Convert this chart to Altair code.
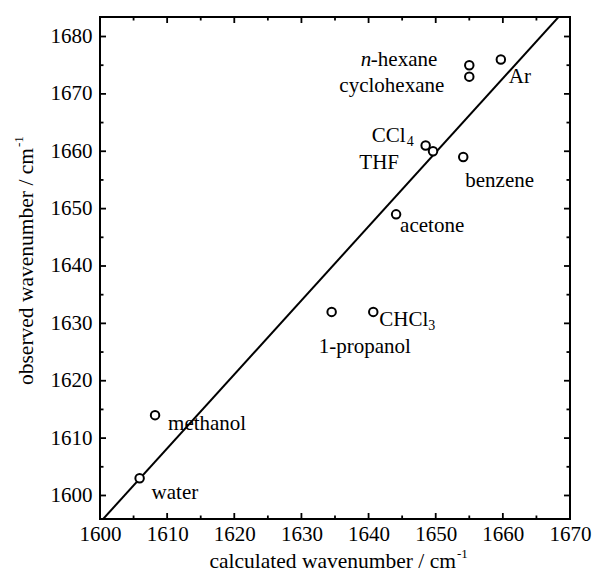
import altair as alt
import pandas as pd

# ---- data ----
solvents = ["water", "methanol", "1-propanol", "CHCl3", "acetone", "CCl4",
            "THF", "benzene", "n-hexane", "cyclohexane", "Ar"]
calculated = [1605.9, 1608.2, 1634.5, 1640.7, 1644.1, 1648.5,
              1649.6, 1654.1, 1655.0, 1655.0, 1659.7]
observed = [1603, 1614, 1632, 1632, 1649, 1661,
            1660, 1659, 1675, 1673, 1676]

fit_x = [1600, 1670]
fit_y = [1595.3, 1685.6]

x_major = [1600, 1610, 1620, 1630, 1640, 1650, 1660, 1670]
x_minor = [1605, 1615, 1625, 1635, 1645, 1655, 1665]
y_major = [1600, 1610, 1620, 1630, 1640, 1650, 1660, 1670, 1680]
y_minor = [1605, 1615, 1625, 1635, 1645, 1655, 1665, 1675]

X_DOMAIN = [1600, 1670]
Y_DOMAIN = [1595.9, 1683.4]
W, H = 470, 502
FONT = "Liberation Serif, Times New Roman, serif"
FS = 21

pts = pd.DataFrame({"solvent": solvents, "calc": calculated, "obs": observed})
fit = pd.DataFrame({"calc": fit_x, "obs": fit_y})
one = pd.DataFrame({"k": [0]})

xs = alt.Scale(domain=X_DOMAIN, nice=False, zero=False)
ys = alt.Scale(domain=Y_DOMAIN, nice=False, zero=False)

x_axis = alt.Axis(values=x_major, format="d", title=None)
y_axis = alt.Axis(values=y_major, format="d", title=None)

base_line = alt.Chart(fit).mark_line(color="black", strokeWidth=2, clip=True).encode(
    x=alt.X("calc:Q", scale=xs, axis=x_axis),
    y=alt.Y("obs:Q", scale=ys, axis=y_axis),
)

points = alt.Chart(pts).mark_point(shape="circle", filled=True, fill="white",
                                   stroke="black", strokeWidth=2, size=72, opacity=1).encode(
    x=alt.X("calc:Q", scale=xs, axis=x_axis),
    y=alt.Y("obs:Q", scale=ys, axis=y_axis),
)

# inward ticks on all four sides
def tick_layers(vals, length):
    dx = pd.DataFrame({"v": vals})
    return [
        alt.Chart(dx).mark_rule(color="black", strokeWidth=1.8).encode(
            x=alt.X("v:Q", scale=xs, axis=x_axis), y=alt.value(H), y2=alt.value(H - length)),
        alt.Chart(dx).mark_rule(color="black", strokeWidth=1.8).encode(
            x=alt.X("v:Q", scale=xs, axis=x_axis), y=alt.value(0), y2=alt.value(length)),
    ]

def ytick_layers(vals, length):
    dy = pd.DataFrame({"v": vals})
    return [
        alt.Chart(dy).mark_rule(color="black", strokeWidth=1.8).encode(
            y=alt.Y("v:Q", scale=ys, axis=y_axis), x=alt.value(0), x2=alt.value(length)),
        alt.Chart(dy).mark_rule(color="black", strokeWidth=1.8).encode(
            y=alt.Y("v:Q", scale=ys, axis=y_axis), x=alt.value(W), x2=alt.value(W - length)),
    ]

ticks = (tick_layers(x_major, 6) + tick_layers(x_minor, 3.5)
         + ytick_layers(y_major, 6) + ytick_layers(y_minor, 3.5))

# label styling: (solvent, text, dx, dy, align, size, style)
label_styles = [
    ("water", "water", 12, 15, "left", FS, "normal"),
    ("methanol", "methanol", 13, 9, "left", FS, "normal"),
    ("1-propanol", "1-propanol", -13, 35, "left", FS, "normal"),
    ("CHCl3", "CHCl", 6, 8, "left", FS, "normal"),
    ("CHCl3", "3", 55, 14, "left", 14, "normal"),
    ("acetone", "acetone", 4, 12, "left", FS, "normal"),
    ("CCl4", "CCl", -20, -10, "right", FS, "normal"),
    ("CCl4", "4", -12, -4, "right", 14, "normal"),
    ("THF", "THF", -34, 12, "right", FS, "normal"),
    ("benzene", "benzene", 2, 24, "left", FS, "normal"),
    ("n-hexane", "-hexane", -32, -5, "right", FS, "normal"),
    ("n-hexane", "n", -98, -5, "right", FS, "italic"),
    ("cyclohexane", "cyclohexane", -25, 9, "right", FS, "normal"),
    ("Ar", "Ar", 8, 18, "left", FS, "normal"),
]

labels = []
for solv, txt, dx, dy, align, size, style in label_styles:
    labels.append(
        alt.Chart(pts).transform_filter(alt.datum.solvent == solv)
        .mark_text(text=txt, dx=dx, dy=dy, align=align, baseline="middle",
                   font=FONT, fontSize=size, fontStyle=style, color="black")
        .encode(x=alt.X("calc:Q", scale=xs, axis=x_axis),
                y=alt.Y("obs:Q", scale=ys, axis=y_axis))
    )

# axis titles with superscript
TFS = 21.5
titles = [
    alt.Chart(one).mark_text(text="calculated wavenumber / cm", align="right",
                             baseline="alphabetic", font=FONT, fontSize=TFS, color="black")
    .encode(x=alt.value(356), y=alt.value(551)),
    alt.Chart(one).mark_text(text="-1", align="left", baseline="alphabetic",
                             font=FONT, fontSize=13, color="black")
    .encode(x=alt.value(357), y=alt.value(541)),
    alt.Chart(one).mark_text(text="observed wavenumber / cm", align="right", angle=270,
                             baseline="alphabetic", font=FONT, fontSize=TFS, color="black")
    .encode(x=alt.value(-67), y=alt.value(131)),
    alt.Chart(one).mark_text(text="-1", align="left", angle=270, baseline="alphabetic",
                             font=FONT, fontSize=13, color="black")
    .encode(x=alt.value(-77), y=alt.value(130)),
]

chart = alt.layer(base_line, *ticks, points, *labels, *titles).properties(
    width=W, height=H,
    background="white",
    autosize=alt.AutoSizeParams(type="none"),
    padding={"left": 100, "top": 17, "right": 23, "bottom": 54},
).configure_view(
    stroke="black", strokeWidth=2
).configure_axis(
    labelFont=FONT, labelFontSize=FS, labelColor="black", labelFlush=False,
    labelOverlap=False, ticks=False, tickSize=0, domain=False, grid=False,
).configure_axisX(labelPadding=4).configure_axisY(labelPadding=8)

chart.save("out.html", embed_options={"renderer": "svg", "actions": False})
